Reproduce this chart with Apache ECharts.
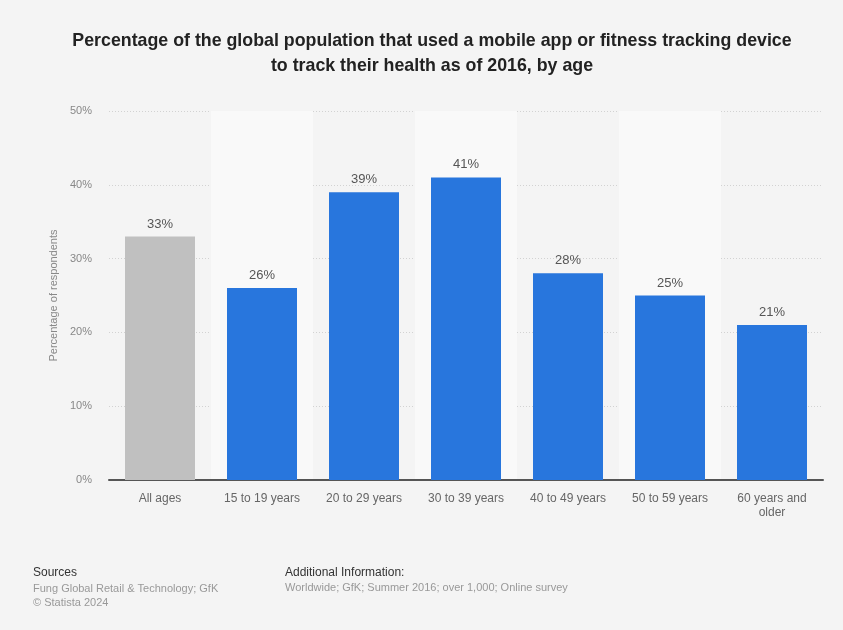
<!DOCTYPE html>
<html><head><meta charset="utf-8">
<script src="https://cdn.jsdelivr.net/npm/echarts@6/dist/echarts.min.js"></script>
<style>html,body{margin:0;padding:0;background:#f4f4f4;}#c{width:843px;height:630px;}</style>
</head><body><div id="c"></div>
<script>
const categories = ['All ages','15 to 19 years','20 to 29 years','30 to 39 years','40 to 49 years','50 to 59 years','60 years and\nolder'];
const values = [33, 26, 39, 41, 28, 25, 21];
const yTicks = [0, 10, 20, 30, 40, 50];
const titleText = 'Percentage of the global population that used a mobile app or fitness tracking device\nto track their health as of 2016, by age';
const yAxisName = 'Percentage of respondents';

const chart = echarts.init(document.getElementById('c'), null, {renderer:'canvas'});
const font = 'Liberation Sans, Arial, sans-serif';
chart.setOption({
  backgroundColor: '#f4f4f4',
  textStyle: {fontFamily: font},
  grid: {left: 109, right: 20, top: 111, bottom: 150, containLabel: false},
  xAxis: {
    type: 'category', data: categories,
    axisLine: {lineStyle: {color: '#555', width: 2}},
    axisTick: {show: false},
    axisLabel: {color: '#666', fontSize: 12, margin: 12, lineHeight: 14, fontFamily: font},
    splitArea: {show: true, areaStyle: {color: ['rgba(0,0,0,0)', '#f9f9f9']}}
  },
  yAxis: {
    type: 'value', min: yTicks[0], max: yTicks[yTicks.length-1], interval: 10,
    name: yAxisName, nameLocation: 'middle', nameGap: 45,
    nameTextStyle: {color: '#888', fontSize: 11, fontFamily: font},
    axisLine: {show: false}, axisTick: {show: false},
    axisLabel: {color: '#888', fontSize: 11, margin: 17, formatter: v => v + '%', fontFamily: font},
    splitLine: {lineStyle: {color: '#d2d2d2', type: [1, 2], width: 1}}
  },
  series: [{
    type: 'bar', barWidth: 70,
    data: values.map((v, i) => ({value: v, itemStyle: {color: i === 0 ? '#c0c0c0' : '#2876dd'}})),
    label: {show: true, position: 'top', distance: 6, color: '#555', fontSize: 13, formatter: p => p.value + '%', fontFamily: font}
  }],
  graphic: [
    {type: 'text', x: 432, y: 29, style: {text: titleText, fill: '#222', font: 'bold 17.8px ' + font, lineHeight: 25, textAlign: 'center'}},
    {type: 'text', left: 33, top: 567, style: {text: 'Sources', fill: '#333', font: '12px ' + font}},
    {type: 'text', left: 33, top: 582, style: {text: 'Fung Global Retail & Technology; GfK\n© Statista 2024', fill: '#999', font: '11px ' + font, lineHeight: 14}},
    {type: 'text', left: 285, top: 567, style: {text: 'Additional Information:', fill: '#333', font: '12px ' + font}},
    {type: 'text', left: 285, top: 582, style: {text: 'Worldwide; GfK; Summer 2016; over 1,000; Online survey', fill: '#999', font: '11px ' + font}}
  ]
});
</script></body></html>
